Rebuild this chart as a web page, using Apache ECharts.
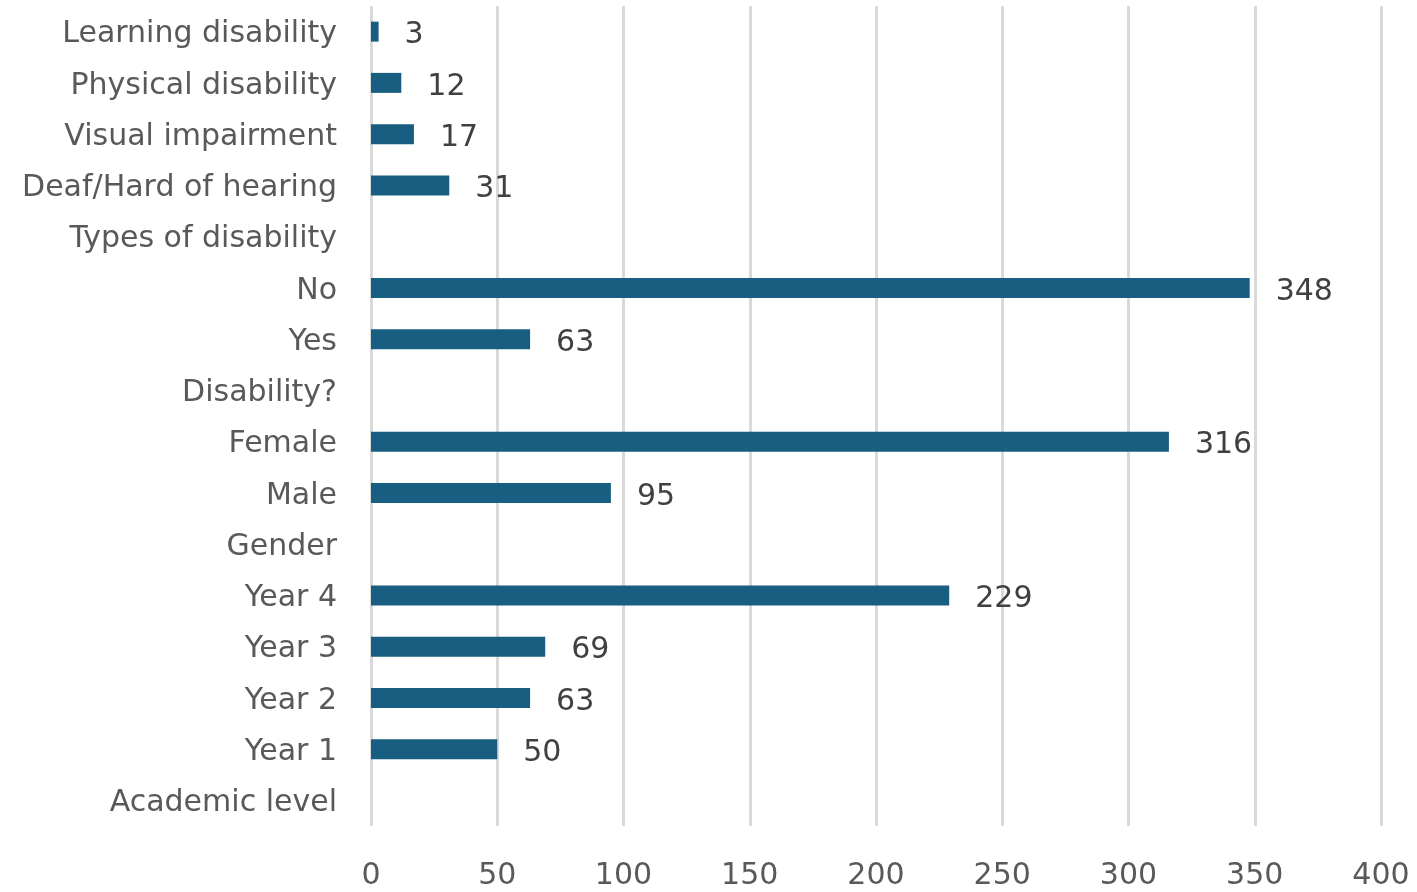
<!DOCTYPE html>
<html>
<head>
<meta charset="utf-8">
<script src="https://cdn.jsdelivr.net/npm/echarts@6/dist/echarts.min.js"></script>
<style>html,body{margin:0;padding:0;background:#fff;}#c{width:1417px;height:892px;}</style>
</head>
<body>
<div id="c"></div>
<script>
const categories = ["Learning disability","Physical disability","Visual impairment","Deaf/Hard of hearing","Types of disability","No","Yes","Disability?","Female","Male","Gender","Year 4","Year 3","Year 2","Year 1","Academic level"];
const values = [3,12,17,31,null,348,63,null,316,95,null,229,69,63,50,null];
const xTicks = {min:0,max:400,interval:50};

const chart = echarts.init(document.getElementById('c'));
const font = '"DejaVu Sans", sans-serif';
chart.setOption({
  animation:false,
  grid:{left:371,right:36,top:6,bottom:66,containLabel:false},
  xAxis:{type:'value',min:xTicks.min,max:xTicks.max,interval:xTicks.interval,
    axisLine:{show:false},axisTick:{show:false},
    splitLine:{show:true,lineStyle:{color:'#d9d9d9',width:3}},
    axisLabel:{color:'#595959',fontSize:30,fontFamily:font,margin:35}},
  yAxis:{type:'category',inverse:true,data:categories,
    axisLine:{show:false},axisTick:{show:false},
    axisLabel:{color:'#595959',fontSize:30,fontFamily:font,margin:34,
      formatter:function(v){return '{t|'+v+'}';},
      rich:{t:{color:'#595959',fontSize:30,fontFamily:font,padding:[6,0,0,0]}}}},
  series:[{type:'bar',data:values,barWidth:20,
    itemStyle:{color:'#175e80'},
    label:{show:true,position:'right',distance:26,color:'#404040',fontSize:30,fontFamily:font,offset:[0,4]}}]
});
</script>
</body>
</html>
